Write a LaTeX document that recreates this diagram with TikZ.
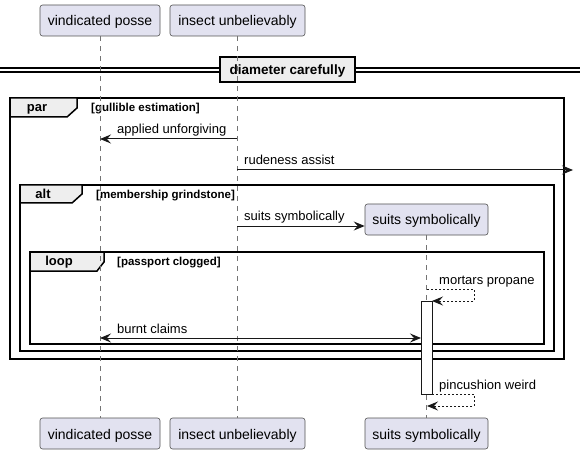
\documentclass[tikz,border=0pt]{standalone}
\usepackage{fontspec}
\setmainfont{Liberation Sans}
\usetikzlibrary{arrows.meta}
\definecolor{partfill}{HTML}{E2E2F0}
\definecolor{tabfill}{HTML}{EEEEEE}
\definecolor{ink}{HTML}{181818}
\begin{document}
\begin{tikzpicture}[x=1pt,y=-1pt,
  part/.style={draw=ink!75, fill=partfill, line width=0.6pt, rounded corners=2.5pt,
    minimum height=31pt, inner sep=0pt, text height=12pt, text depth=1pt,
    font=\fontsize{14}{16}\selectfont},
  msg/.style={font=\fontsize{13}{15}\selectfont, anchor=base west, inner sep=0pt},
  guard/.style={font=\bfseries\fontsize{11.5}{13}\selectfont, anchor=base west, inner sep=0pt},
  tablbl/.style={font=\bfseries\fontsize{13}{15}\selectfont, anchor=base, inner sep=0pt},
  grpframe/.style={draw=black, line width=1.5pt},
  grptab/.style={draw=black, fill=tabfill, line width=1.5pt},
  lifeline/.style={draw=ink!60, line width=0.6pt, dash pattern=on 5pt off 5pt},
  tip/.tip={Stealth[length=11pt,width=9pt,inset=4pt]},
  arr/.style={draw=ink, line width=1pt, -tip},
  darr/.style={draw=ink, line width=1pt, dash pattern=on 2pt off 2pt, -tip},
  divbox/.style={draw=black, fill=tabfill, line width=2pt, inner sep=0pt,
    minimum width=135pt, minimum height=25pt, text height=10pt, text depth=0pt,
    font=\bfseries\fontsize{13.5}{15}\selectfont}
]
\useasboundingbox (0,0) rectangle (580,454);

% participants
\node[part, minimum width=120pt] (p1) at (100,20.5) {vindicated posse};
\node[part, minimum width=135pt] (p2) at (237.5,20.5) {insect unbelievably};
\node[part, minimum width=120pt] (p1b) at (100,433.5) {vindicated posse};
\node[part, minimum width=135pt] (p2b) at (237.5,433.5) {insect unbelievably};
\node[part, minimum width=123pt] (p3b) at (426.5,433.5) {suits symbolically};

% divider
\coordinate (dl1) at (0,68); \coordinate (dr1) at (580,68);
\coordinate (dl2) at (0,72); \coordinate (dr2) at (580,72);
\draw[line width=1.3pt] (dl1) -- (dr1);
\draw[line width=1.3pt] (dl2) -- (dr2);
\node[divbox] (div) at (287.5,69.5) {diameter carefully};

% group frames
\coordinate (parNW) at (10,98); \coordinate (parSE) at (564,359);
\draw[grpframe] (parNW) rectangle (parSE);
\draw[grptab] (parNW) -- ++(67,0) -- ++(0,10) -- ++(-10,9) -- ++(-57,0) -- cycle;
\node[tablbl] (parlbl) at (37,111.5) {par};
\node[guard] (parg) at (91,111.5) {[gullible estimation]};

\coordinate (altNW) at (20,185); \coordinate (altSE) at (554,351);
\draw[grpframe] (altNW) rectangle (altSE);
\draw[grptab] (altNW) -- ++(62,0) -- ++(0,9) -- ++(-10,9) -- ++(-52,0) -- cycle;
\node[tablbl] (altlbl) at (43,198.5) {alt};
\node[guard] (altg) at (96,198.5) {[membership grindstone]};

\coordinate (loopNW) at (30,252); \coordinate (loopSE) at (544,344);
\draw[grpframe] (loopNW) rectangle (loopSE);
\draw[grptab] (loopNW) -- ++(74,0) -- ++(0,10) -- ++(-7,9) -- ++(-67,0) -- cycle;
\node[tablbl] (looplbl) at (59,265.5) {loop};
\node[guard] (loopg) at (117,265.5) {[passport clogged]};

% created participant
\node[part, minimum width=123pt] (p3) at (426.5,219.5) {suits symbolically};

% lifelines
\draw[lifeline] (p1.south) -- (p1b.north);
\draw[lifeline] (p2.south) -- (p2b.north);
\draw[lifeline] (p3.south) -- (p3b.north);

% activation
\node[draw=ink, fill=white, line width=1pt, anchor=north west, inner sep=0pt,
  outer sep=0pt, minimum width=11pt, minimum height=93pt] (act) at (421,301) {};

% messages
\coordinate (m1a) at (237,139); \coordinate (m1b) at (100,139);
\draw[arr] (m1a) -- (m1b);
\node[msg] (m1l) at (117,134) {applied unforgiving};

\coordinate (m2a) at (237,170); \coordinate (m2b) at (573,170);
\draw[arr] (m2a) -- (m2b);
\node[msg] (m2l) at (244,165) {rudeness assist};

\coordinate (m3a) at (237,226);
\draw[arr] (m3a) -- (m3a -| p3.west);
\node[msg] (m3l) at (244,221) {suits symbolically};

\coordinate (m4a) at (427,289);
\draw[darr] (m4a) -- ++(47,0) -- ++(0,12) -- (act.north east);
\node[msg] (m4l) at (439,284) {mortars propane};

\coordinate (m5a) at (100,338);
\draw[arr, tip-tip] (m5a) -- (m5a -| act.west);
\node[msg] (m5l) at (117,333) {burnt claims};

\coordinate (m6b) at (427,406);
\draw[darr] (act.south east) -- ++(42,0) -- ++(0,12) -- (m6b);
\node[msg] (m6l) at (439,389) {pincushion weird};
\end{tikzpicture}
\end{document}
